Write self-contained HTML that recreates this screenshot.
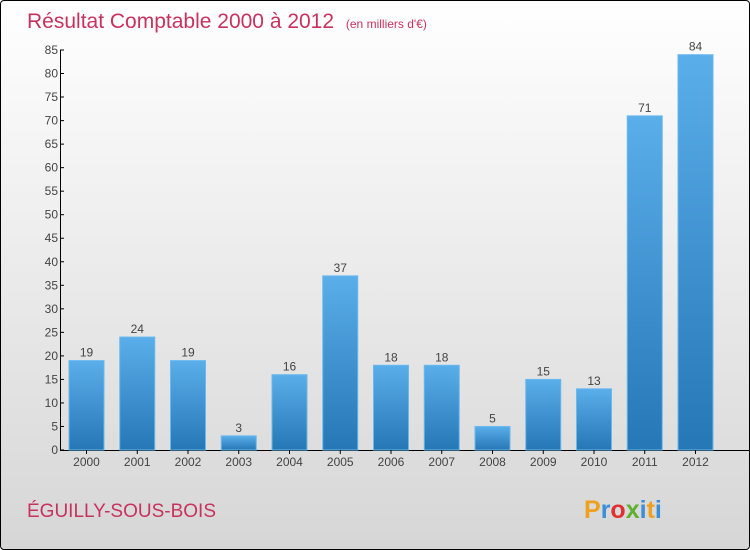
<!DOCTYPE html>
<html><head><meta charset="utf-8"><style>
body{margin:0}
#c{position:relative;width:748px;height:548px;border:1px solid #000;border-radius:4px;overflow:hidden;background:linear-gradient(#ffffff,#d6d6d6);font-family:"Liberation Sans",sans-serif}
</style></head><body>
<div id="c">
<svg id="s" width="748" height="548">
<defs><linearGradient id="g" x1="0" y1="0" x2="0" y2="1"><stop offset="0" stop-color="#5aaeea"/><stop offset="1" stop-color="#2577b5"/></linearGradient></defs>
<text x="26" y="27" font-size="21" fill="#c8325e">Résultat Comptable 2000 à 2012 <tspan font-size="12" dx="6">(en milliers d'€)</tspan></text>
<text x="26" y="516" font-size="19" fill="#c8325e">ÉGUILLY-SOUS-BOIS</text>
<text x="583" y="517" font-size="25" font-weight="bold" fill="#3a8fd8"><tspan fill="#f0a020">P</tspan><tspan fill="#3a8fd8">r</tspan><tspan fill="#e03030">o</tspan><tspan fill="#60b030">x</tspan><tspan fill="#3a8fd8">i</tspan><tspan fill="#f0a020">t</tspan><tspan fill="#3a8fd8">i</tspan></text>
<g id="plot"></g>
</svg></div>
<script>
const years=["2000","2001","2002","2003","2004","2005","2006","2007","2008","2009","2010","2011","2012"];
const values=[19,24,19,3,16,37,18,18,5,15,13,71,84];
const yTicks=[0,5,10,15,20,25,30,35,40,45,50,55,60,65,70,75,80,85];
const NS="http://www.w3.org/2000/svg",p=document.getElementById('plot');
const y=v=>449-v*400/85, x=i=>85.5+i*50.75;
function el(t,a,txt){const e=document.createElementNS(NS,t);for(const k in a)e.setAttribute(k,a[k]);if(txt!=null)e.textContent=txt;p.appendChild(e);return e;}
let ax=el('line',{x1:59.5,y1:y(85),x2:59.5,y2:449.5,stroke:'#000'});

let xa=el('line',{x1:59,y1:449.5,x2:748,y2:449.5,stroke:'#000'});

yTicks.forEach(t=>{
 const tk=el('line',{x1:59,x2:63,y1:y(t),y2:y(t),stroke:'#000'});
 
 const l=el('text',{x:57,y:y(t)+4,'font-size':12,'text-anchor':'end',fill:'#444'},t);
 
});
years.forEach((yr,i)=>{
 const v=values[i],cx=x(i);
 const b=el('rect',{x:cx-17.5,y:y(v),width:35,height:449-y(v),fill:'url(#g)',stroke:'#6ab8ee','stroke-width':1});
 
 const vl=el('text',{x:cx,y:y(v)-4,'font-size':12,'text-anchor':'middle',fill:'#444'},v);
 
 const tk=el('line',{x1:cx,x2:cx,y1:449,y2:453,stroke:'#000'});
 
 const xl=el('text',{x:cx,y:465,'font-size':12,'text-anchor':'middle',fill:'#444'},yr);
 
});
</script>
</body></html>
